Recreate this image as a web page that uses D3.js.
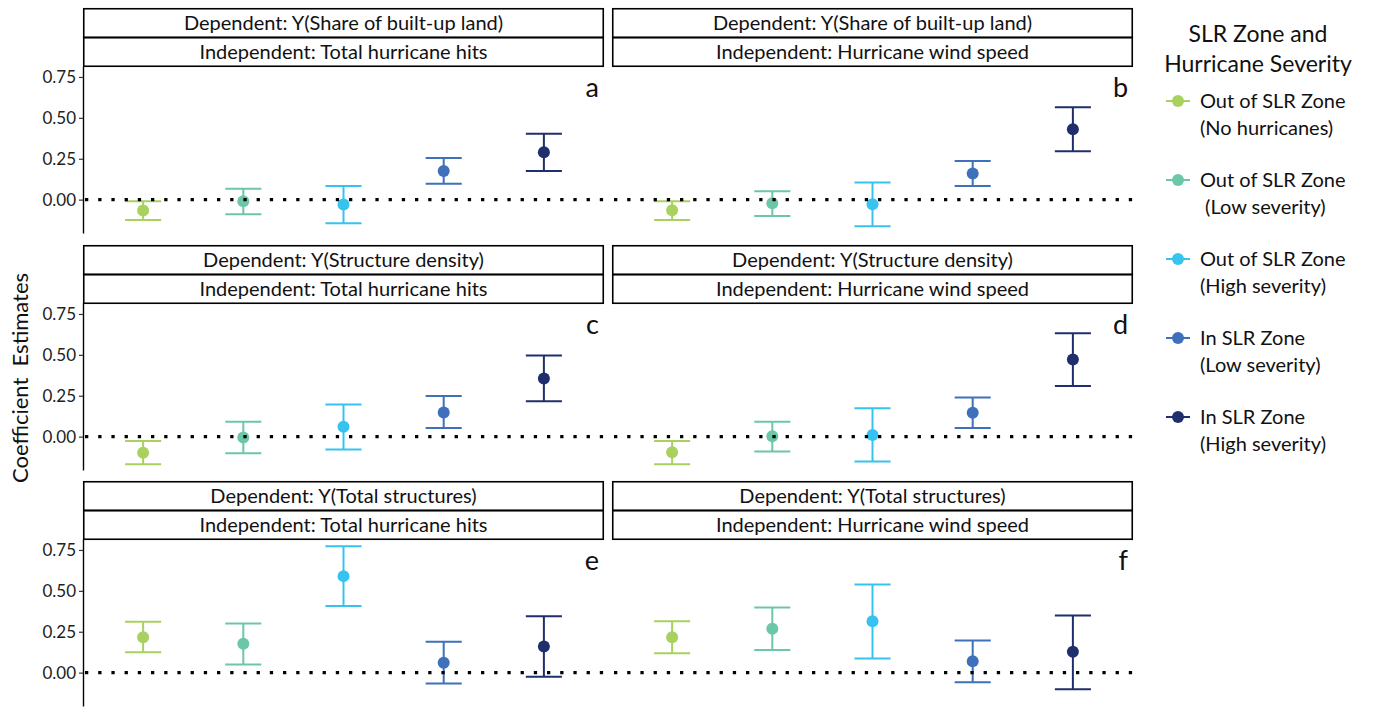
<!DOCTYPE html>
<html>
<head>
<meta charset="utf-8">
<script src="https://cdn.jsdelivr.net/npm/d3@7"></script>
<style>
  body { margin: 0; background: #fff; }
  svg { display: block; font-family: Lato, "Open Sans", sans-serif; }
</style>
</head>
<body>
<svg id="chart" width="1374" height="707"></svg>
<script>
// Groups on the x axis (same order in every panel)
const categories = ['outNone', 'outLow', 'outHigh', 'inLow', 'inHigh'];
const legendLines = [
    ['Out of SLR Zone', '(No hurricanes)'],
    ['Out of SLR Zone', ' (Low severity)'],
    ['Out of SLR Zone', '(High severity)'],
    ['In SLR Zone', '(Low severity)'],
    ['In SLR Zone', '(High severity)']
];
const colors = ['#a9d160', '#6cc6a8', '#36c3f0', '#3e70bb', '#1f2e6c'];

// Panels a-f, read row by row
const panelLetters = ['a', 'b', 'c', 'd', 'e', 'f'];
const dependentLabels = [
    'Dependent: Y(Share of built-up land)', 'Dependent: Y(Share of built-up land)',
    'Dependent: Y(Structure density)', 'Dependent: Y(Structure density)',
    'Dependent: Y(Total structures)', 'Dependent: Y(Total structures)'
];
const independentLabels = [
    'Independent: Total hurricane hits', 'Independent: Hurricane wind speed',
    'Independent: Total hurricane hits', 'Independent: Hurricane wind speed',
    'Independent: Total hurricane hits', 'Independent: Hurricane wind speed'
];

// Coefficient estimates and confidence bounds per panel
const estimates = [
    [-0.066, -0.010, -0.030, 0.175, 0.290],
    [-0.065, -0.022, -0.028, 0.160, 0.431],
    [-0.098, -0.006, 0.061, 0.148, 0.356],
    [-0.096, 0.002, 0.010, 0.146, 0.472],
    [0.217, 0.176, 0.590, 0.061, 0.160],
    [0.217, 0.268, 0.314, 0.070, 0.127]
];
const lowerCI = [
    [-0.125, -0.090, -0.145, 0.097, 0.175],
    [-0.125, -0.100, -0.163, 0.083, 0.296],
    [-0.169, -0.102, -0.079, 0.053, 0.217],
    [-0.169, -0.091, -0.152, 0.053, 0.309],
    [0.125, 0.049, 0.408, -0.066, -0.025],
    [0.119, 0.139, 0.086, -0.059, -0.102]
];
const upperCI = [
    [-0.010, 0.067, 0.083, 0.254, 0.403],
    [-0.010, 0.052, 0.105, 0.236, 0.565],
    [-0.026, 0.091, 0.197, 0.248, 0.496],
    [-0.026, 0.091, 0.173, 0.240, 0.632],
    [0.311, 0.301, 0.773, 0.189, 0.344],
    [0.314, 0.398, 0.539, 0.197, 0.350]
];
const yTicks = [0, 0.25, 0.5, 0.75];
const yDomain = [-0.204, 0.817];

// Layout
const colX = [83, 612];
const rowY = [8, 245, 481];
const panelW = 521;
const stripH = 29;
const plotH = 167;

const svg = d3.select('#chart');

const x = d3.scalePoint()
    .domain(categories)
    .range([0, panelW])
    .padding(0.6);

const y = d3.scaleLinear()
    .domain(yDomain)
    .range([plotH, 0]);

const color = d3.scaleOrdinal()
    .domain(categories)
    .range(colors);

const capW = x.step() * 0.36;

panelLetters.forEach((letter, i) => {
    const col = i % 2;
    const row = Math.floor(i / 2);
    const g = svg.append('g')
        .attr('transform', `translate(${colX[col]},${rowY[row]})`);

    // Two stacked strip labels
    [dependentLabels[i], independentLabels[i]].forEach((label, k) => {
        g.append('rect')
            .attr('x', 0.75)
            .attr('y', k * stripH + 0.75)
            .attr('width', panelW - 1.5)
            .attr('height', stripH - 0.5)
            .attr('fill', '#fff')
            .attr('stroke', '#000')
            .attr('stroke-width', 1.6);
        g.append('text')
            .attr('x', panelW / 2)
            .attr('y', k * stripH + stripH / 2 + 7)
            .attr('text-anchor', 'middle')
            .style('font-size', '20px')
            .attr('fill', '#111')
            .text(label);
    });

    const plot = g.append('g')
        .attr('transform', `translate(0,${stripH * 2})`);

    // Y axis only on the left column
    if (col === 0) {
        const axis = plot.append('g')
            .call(d3.axisLeft(y)
                .tickValues(yTicks)
                .tickFormat(d3.format('.2f'))
                .tickSize(4)
                .tickSizeOuter(0)
                .tickPadding(3));
        axis.select('.domain').attr('stroke', '#000').attr('stroke-width', 1.4);
        axis.selectAll('.tick line').attr('stroke', '#333').attr('stroke-width', 1.2);
        axis.selectAll('.tick text')
            .style('font-size', '17px')
            .style('font-family', 'Lato, "Open Sans", sans-serif')
            .attr('fill', '#222');
    }

    const rows = categories.map((c, j) => ({
        cat: c,
        est: estimates[i][j],
        lo: lowerCI[i][j],
        hi: upperCI[i][j]
    }));

    const bars = plot.selectAll('.err')
        .data(rows)
        .enter()
        .append('g')
        .attr('class', 'err')
        .attr('stroke', d => color(d.cat))
        .attr('stroke-width', 2);

    bars.append('line')
        .attr('x1', d => x(d.cat))
        .attr('x2', d => x(d.cat))
        .attr('y1', d => y(d.lo))
        .attr('y2', d => y(d.hi));

    bars.append('line')
        .attr('x1', d => x(d.cat) - capW / 2)
        .attr('x2', d => x(d.cat) + capW / 2)
        .attr('y1', d => y(d.hi))
        .attr('y2', d => y(d.hi));

    bars.append('line')
        .attr('x1', d => x(d.cat) - capW / 2)
        .attr('x2', d => x(d.cat) + capW / 2)
        .attr('y1', d => y(d.lo))
        .attr('y2', d => y(d.lo));

    plot.selectAll('.pt')
        .data(rows)
        .enter()
        .append('circle')
        .attr('class', 'pt')
        .attr('cx', d => x(d.cat))
        .attr('cy', d => y(d.est))
        .attr('r', 6)
        .attr('fill', d => color(d.cat));

    // Dotted reference line at zero
    plot.append('line')
        .attr('x1', 2)
        .attr('x2', panelW)
        .attr('y1', y(0))
        .attr('y2', y(0))
        .attr('stroke', '#000')
        .attr('stroke-width', 3.3)
        .attr('stroke-dasharray', '3.3,9.9');

    // Panel letter
    plot.append('text')
        .attr('x', panelW - 5)
        .attr('y', 31)
        .attr('text-anchor', 'end')
        .style('font-size', '27px')
        .attr('fill', '#111')
        .text(letter);
});

// Y axis title
svg.append('text')
    .attr('transform', 'translate(28,378) rotate(-90)')
    .attr('text-anchor', 'middle')
    .style('font-size', '22px')
    .attr('fill', '#111')
    .style('white-space', 'pre')
    .text('Coefficient  Estimates');

// Legend
const legend = svg.append('g');

legend.append('text')
    .attr('x', 1258)
    .attr('y', 42)
    .attr('text-anchor', 'middle')
    .style('font-size', '23px')
    .attr('fill', '#111')
    .text('SLR Zone and');

legend.append('text')
    .attr('x', 1258)
    .attr('y', 72)
    .attr('text-anchor', 'middle')
    .style('font-size', '23px')
    .attr('fill', '#111')
    .text('Hurricane Severity');

const legendY = d3.scalePoint()
    .domain(categories)
    .range([101, 417]);

const items = legend.selectAll('.item')
    .data(categories)
    .enter()
    .append('g')
    .attr('class', 'item')
    .attr('transform', d => `translate(0,${legendY(d)})`);

items.append('line')
    .attr('x1', 1166)
    .attr('x2', 1190)
    .attr('stroke', d => color(d))
    .attr('stroke-width', 2);

items.append('circle')
    .attr('cx', 1178)
    .attr('r', 6)
    .attr('fill', d => color(d));

items.each(function(d, j) {
    const t = d3.select(this).append('text')
        .attr('x', 1200)
        .attr('y', 7)
        .style('font-size', '20px')
        .attr('fill', '#111')
        .style('white-space', 'pre');
    t.append('tspan').attr('x', 1200).attr('dy', 0).text(legendLines[j][0]);
    t.append('tspan').attr('x', 1200).attr('dy', 27).text(legendLines[j][1]);
});
</script>
</body>
</html>
